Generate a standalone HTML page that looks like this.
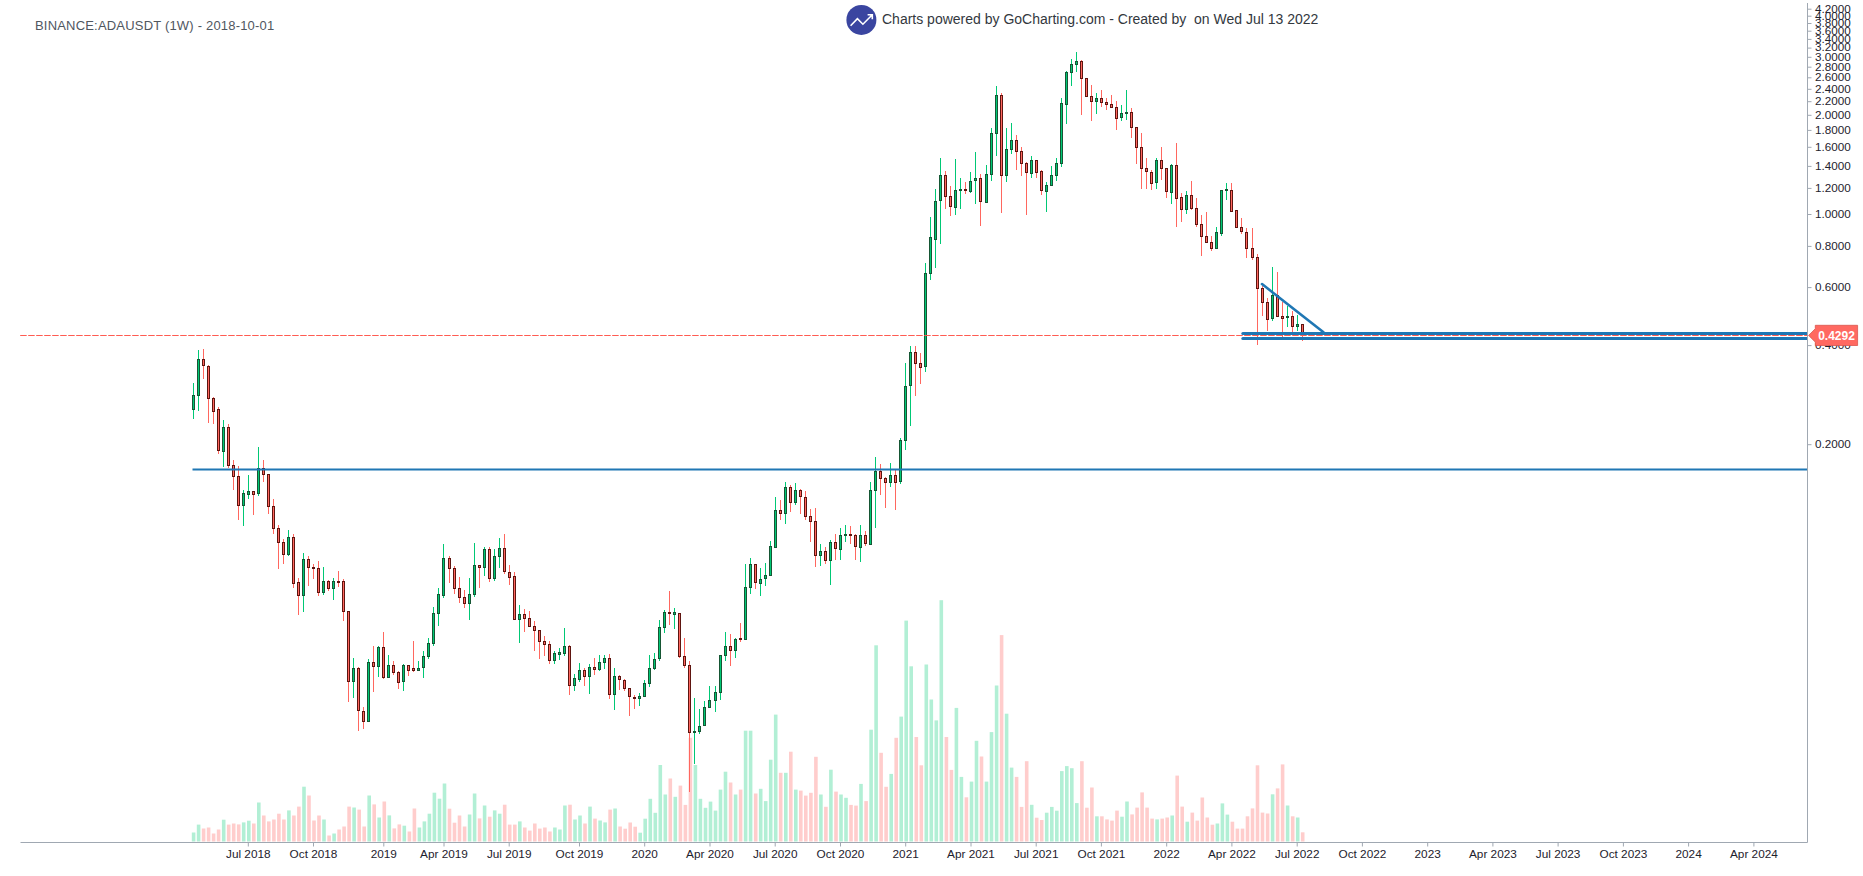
<!DOCTYPE html>
<html><head><meta charset="utf-8"><style>
html,body{margin:0;padding:0;background:#fff;width:1863px;height:876px;overflow:hidden}
svg{display:block;position:absolute;left:0;top:0}
.t{position:absolute;font-family:"Liberation Sans",sans-serif;white-space:pre}
</style></head><body>
<svg width="1863" height="876" viewBox="0 0 1863 876">
<defs><clipPath id="pc"><rect x="0" y="0" width="1807.5" height="842"/></clipPath></defs>
<g><rect x="191.8" y="832.5" width="3.6" height="9.0" fill="#b2efd5"/><rect x="196.8" y="824.6" width="3.6" height="16.9" fill="#b2efd5"/><rect x="201.8" y="828.5" width="3.6" height="13.0" fill="#ffcdcc"/><rect x="206.8" y="827.5" width="3.6" height="14.0" fill="#ffcdcc"/><rect x="211.8" y="833.5" width="3.6" height="8.0" fill="#ffcdcc"/><rect x="216.8" y="829.5" width="3.6" height="12.0" fill="#ffcdcc"/><rect x="221.9" y="819.7" width="3.6" height="21.8" fill="#b2efd5"/><rect x="226.9" y="824.6" width="3.6" height="16.9" fill="#ffcdcc"/><rect x="231.9" y="823.5" width="3.6" height="18.0" fill="#ffcdcc"/><rect x="236.9" y="824.4" width="3.6" height="17.1" fill="#ffcdcc"/><rect x="241.9" y="822.4" width="3.6" height="19.1" fill="#b2efd5"/><rect x="247.0" y="820.7" width="3.6" height="20.8" fill="#b2efd5"/><rect x="252.0" y="823.5" width="3.6" height="18.0" fill="#ffcdcc"/><rect x="257.0" y="802.5" width="3.6" height="39.0" fill="#b2efd5"/><rect x="262.0" y="815.5" width="3.6" height="26.0" fill="#ffcdcc"/><rect x="267.0" y="821.4" width="3.6" height="20.1" fill="#ffcdcc"/><rect x="272.1" y="819.5" width="3.6" height="22.0" fill="#ffcdcc"/><rect x="277.1" y="813.7" width="3.6" height="27.8" fill="#ffcdcc"/><rect x="282.1" y="819.5" width="3.6" height="22.0" fill="#ffcdcc"/><rect x="287.1" y="810.4" width="3.6" height="31.1" fill="#b2efd5"/><rect x="292.1" y="815.5" width="3.6" height="26.0" fill="#ffcdcc"/><rect x="297.1" y="806.6" width="3.6" height="34.9" fill="#ffcdcc"/><rect x="302.2" y="786.7" width="3.6" height="54.8" fill="#b2efd5"/><rect x="307.2" y="795.5" width="3.6" height="46.0" fill="#ffcdcc"/><rect x="312.2" y="820.5" width="3.6" height="21.0" fill="#ffcdcc"/><rect x="317.2" y="815.5" width="3.6" height="26.0" fill="#ffcdcc"/><rect x="322.2" y="819.5" width="3.6" height="22.0" fill="#b2efd5"/><rect x="327.3" y="835.5" width="3.6" height="6.0" fill="#ffcdcc"/><rect x="332.3" y="833.5" width="3.6" height="8.0" fill="#b2efd5"/><rect x="337.3" y="829.5" width="3.6" height="12.0" fill="#ffcdcc"/><rect x="342.3" y="826.5" width="3.6" height="15.0" fill="#ffcdcc"/><rect x="347.3" y="806.6" width="3.6" height="34.9" fill="#ffcdcc"/><rect x="352.3" y="807.5" width="3.6" height="34.0" fill="#b2efd5"/><rect x="357.4" y="809.6" width="3.6" height="31.9" fill="#ffcdcc"/><rect x="362.4" y="826.5" width="3.6" height="15.0" fill="#ffcdcc"/><rect x="367.4" y="795.5" width="3.6" height="46.0" fill="#b2efd5"/><rect x="372.4" y="804.4" width="3.6" height="37.1" fill="#ffcdcc"/><rect x="377.4" y="817.5" width="3.6" height="24.0" fill="#b2efd5"/><rect x="382.5" y="801.5" width="3.6" height="40.0" fill="#ffcdcc"/><rect x="387.5" y="815.4" width="3.6" height="26.1" fill="#b2efd5"/><rect x="392.5" y="828.4" width="3.6" height="13.1" fill="#ffcdcc"/><rect x="397.5" y="824.4" width="3.6" height="17.1" fill="#ffcdcc"/><rect x="402.5" y="825.7" width="3.6" height="15.8" fill="#b2efd5"/><rect x="407.6" y="831.5" width="3.6" height="10.0" fill="#ffcdcc"/><rect x="412.6" y="808.5" width="3.6" height="33.0" fill="#ffcdcc"/><rect x="417.6" y="827.5" width="3.6" height="14.0" fill="#b2efd5"/><rect x="422.6" y="821.4" width="3.6" height="20.1" fill="#b2efd5"/><rect x="427.6" y="813.7" width="3.6" height="27.8" fill="#b2efd5"/><rect x="432.6" y="792.7" width="3.6" height="48.8" fill="#b2efd5"/><rect x="437.7" y="798.7" width="3.6" height="42.8" fill="#b2efd5"/><rect x="442.7" y="783.5" width="3.6" height="58.0" fill="#b2efd5"/><rect x="447.7" y="808.7" width="3.6" height="32.8" fill="#ffcdcc"/><rect x="452.7" y="822.7" width="3.6" height="18.8" fill="#ffcdcc"/><rect x="457.7" y="815.5" width="3.6" height="26.0" fill="#ffcdcc"/><rect x="462.8" y="826.5" width="3.6" height="15.0" fill="#ffcdcc"/><rect x="467.8" y="814.5" width="3.6" height="27.0" fill="#b2efd5"/><rect x="472.8" y="793.5" width="3.6" height="48.0" fill="#b2efd5"/><rect x="477.8" y="818.4" width="3.6" height="23.1" fill="#ffcdcc"/><rect x="482.8" y="805.5" width="3.6" height="36.0" fill="#b2efd5"/><rect x="487.9" y="816.7" width="3.6" height="24.8" fill="#ffcdcc"/><rect x="492.9" y="810.4" width="3.6" height="31.1" fill="#b2efd5"/><rect x="497.9" y="813.7" width="3.6" height="27.8" fill="#b2efd5"/><rect x="502.9" y="804.7" width="3.6" height="36.8" fill="#ffcdcc"/><rect x="507.9" y="824.6" width="3.6" height="16.9" fill="#ffcdcc"/><rect x="513.0" y="824.6" width="3.6" height="16.9" fill="#ffcdcc"/><rect x="518.0" y="821.4" width="3.6" height="20.1" fill="#b2efd5"/><rect x="523.0" y="827.5" width="3.6" height="14.0" fill="#ffcdcc"/><rect x="528.0" y="830.6" width="3.6" height="10.9" fill="#ffcdcc"/><rect x="533.0" y="823.5" width="3.6" height="18.0" fill="#ffcdcc"/><rect x="538.0" y="828.6" width="3.6" height="12.9" fill="#ffcdcc"/><rect x="543.1" y="827.5" width="3.6" height="14.0" fill="#ffcdcc"/><rect x="548.1" y="831.5" width="3.6" height="10.0" fill="#ffcdcc"/><rect x="553.1" y="827.5" width="3.6" height="14.0" fill="#b2efd5"/><rect x="558.1" y="829.5" width="3.6" height="12.0" fill="#b2efd5"/><rect x="563.1" y="805.5" width="3.6" height="36.0" fill="#b2efd5"/><rect x="568.2" y="804.7" width="3.6" height="36.8" fill="#ffcdcc"/><rect x="573.2" y="819.5" width="3.6" height="22.0" fill="#b2efd5"/><rect x="578.2" y="815.5" width="3.6" height="26.0" fill="#b2efd5"/><rect x="583.2" y="823.5" width="3.6" height="18.0" fill="#ffcdcc"/><rect x="588.2" y="806.6" width="3.6" height="34.9" fill="#b2efd5"/><rect x="593.2" y="818.6" width="3.6" height="22.9" fill="#ffcdcc"/><rect x="598.3" y="820.5" width="3.6" height="21.0" fill="#b2efd5"/><rect x="603.3" y="822.4" width="3.6" height="19.1" fill="#b2efd5"/><rect x="608.3" y="809.6" width="3.6" height="31.9" fill="#ffcdcc"/><rect x="613.3" y="808.5" width="3.6" height="33.0" fill="#b2efd5"/><rect x="618.3" y="826.5" width="3.6" height="15.0" fill="#ffcdcc"/><rect x="623.4" y="828.7" width="3.6" height="12.8" fill="#ffcdcc"/><rect x="628.4" y="822.5" width="3.6" height="19.0" fill="#ffcdcc"/><rect x="633.4" y="826.7" width="3.6" height="14.8" fill="#ffcdcc"/><rect x="638.4" y="832.7" width="3.6" height="8.8" fill="#b2efd5"/><rect x="643.4" y="818.7" width="3.6" height="22.8" fill="#b2efd5"/><rect x="648.5" y="798.8" width="3.6" height="42.7" fill="#b2efd5"/><rect x="653.5" y="812.8" width="3.6" height="28.7" fill="#b2efd5"/><rect x="658.5" y="765.0" width="3.6" height="76.5" fill="#b2efd5"/><rect x="663.5" y="794.5" width="3.6" height="47.0" fill="#b2efd5"/><rect x="668.5" y="778.5" width="3.6" height="63.0" fill="#ffcdcc"/><rect x="673.5" y="796.8" width="3.6" height="44.7" fill="#b2efd5"/><rect x="678.6" y="785.6" width="3.6" height="55.9" fill="#ffcdcc"/><rect x="683.6" y="804.9" width="3.6" height="36.6" fill="#ffcdcc"/><rect x="688.6" y="737.8" width="3.6" height="103.7" fill="#ffcdcc"/><rect x="693.6" y="765.0" width="3.6" height="76.5" fill="#b2efd5"/><rect x="698.6" y="798.8" width="3.6" height="42.7" fill="#b2efd5"/><rect x="703.7" y="807.8" width="3.6" height="33.7" fill="#b2efd5"/><rect x="708.7" y="801.6" width="3.6" height="39.9" fill="#b2efd5"/><rect x="713.7" y="810.6" width="3.6" height="30.9" fill="#b2efd5"/><rect x="718.7" y="789.6" width="3.6" height="51.9" fill="#b2efd5"/><rect x="723.7" y="771.7" width="3.6" height="69.8" fill="#b2efd5"/><rect x="728.8" y="782.5" width="3.6" height="59.0" fill="#ffcdcc"/><rect x="733.8" y="794.5" width="3.6" height="47.0" fill="#b2efd5"/><rect x="738.8" y="789.6" width="3.6" height="51.9" fill="#ffcdcc"/><rect x="743.8" y="730.7" width="3.6" height="110.8" fill="#b2efd5"/><rect x="748.8" y="730.7" width="3.6" height="110.8" fill="#b2efd5"/><rect x="753.9" y="793.5" width="3.6" height="48.0" fill="#ffcdcc"/><rect x="758.9" y="788.8" width="3.6" height="52.7" fill="#b2efd5"/><rect x="763.9" y="801.1" width="3.6" height="40.4" fill="#b2efd5"/><rect x="768.9" y="759.7" width="3.6" height="81.8" fill="#b2efd5"/><rect x="773.9" y="714.6" width="3.6" height="126.9" fill="#b2efd5"/><rect x="778.9" y="772.8" width="3.6" height="68.7" fill="#ffcdcc"/><rect x="784.0" y="772.8" width="3.6" height="68.7" fill="#b2efd5"/><rect x="789.0" y="751.7" width="3.6" height="89.8" fill="#ffcdcc"/><rect x="794.0" y="789.6" width="3.6" height="51.9" fill="#b2efd5"/><rect x="799.0" y="790.6" width="3.6" height="50.9" fill="#ffcdcc"/><rect x="804.0" y="795.6" width="3.6" height="45.9" fill="#ffcdcc"/><rect x="809.1" y="792.8" width="3.6" height="48.7" fill="#ffcdcc"/><rect x="814.1" y="756.8" width="3.6" height="84.7" fill="#ffcdcc"/><rect x="819.1" y="794.5" width="3.6" height="47.0" fill="#b2efd5"/><rect x="824.1" y="806.8" width="3.6" height="34.7" fill="#ffcdcc"/><rect x="829.1" y="769.7" width="3.6" height="71.8" fill="#b2efd5"/><rect x="834.2" y="791.6" width="3.6" height="49.9" fill="#ffcdcc"/><rect x="839.2" y="794.5" width="3.6" height="47.0" fill="#b2efd5"/><rect x="844.2" y="797.8" width="3.6" height="43.7" fill="#b2efd5"/><rect x="849.2" y="804.9" width="3.6" height="36.6" fill="#ffcdcc"/><rect x="854.2" y="805.6" width="3.6" height="35.9" fill="#ffcdcc"/><rect x="859.2" y="783.9" width="3.6" height="57.6" fill="#b2efd5"/><rect x="864.3" y="801.1" width="3.6" height="40.4" fill="#ffcdcc"/><rect x="869.3" y="729.7" width="3.6" height="111.8" fill="#b2efd5"/><rect x="874.3" y="645.3" width="3.6" height="196.2" fill="#b2efd5"/><rect x="879.3" y="752.8" width="3.6" height="88.7" fill="#ffcdcc"/><rect x="884.3" y="786.8" width="3.6" height="54.7" fill="#ffcdcc"/><rect x="889.4" y="773.9" width="3.6" height="67.6" fill="#b2efd5"/><rect x="894.4" y="737.8" width="3.6" height="103.7" fill="#ffcdcc"/><rect x="899.4" y="716.6" width="3.6" height="124.9" fill="#b2efd5"/><rect x="904.4" y="620.6" width="3.6" height="220.9" fill="#b2efd5"/><rect x="909.4" y="666.3" width="3.6" height="175.2" fill="#b2efd5"/><rect x="914.5" y="737.0" width="3.6" height="104.5" fill="#ffcdcc"/><rect x="919.5" y="765.3" width="3.6" height="76.2" fill="#ffcdcc"/><rect x="924.5" y="664.5" width="3.6" height="177.0" fill="#b2efd5"/><rect x="929.5" y="699.5" width="3.6" height="142.0" fill="#b2efd5"/><rect x="934.5" y="720.4" width="3.6" height="121.1" fill="#b2efd5"/><rect x="939.5" y="600.2" width="3.6" height="241.3" fill="#b2efd5"/><rect x="944.6" y="737.0" width="3.6" height="104.5" fill="#ffcdcc"/><rect x="949.6" y="769.9" width="3.6" height="71.6" fill="#ffcdcc"/><rect x="954.6" y="707.9" width="3.6" height="133.6" fill="#b2efd5"/><rect x="959.6" y="776.9" width="3.6" height="64.6" fill="#b2efd5"/><rect x="964.6" y="797.3" width="3.6" height="44.2" fill="#ffcdcc"/><rect x="969.7" y="781.6" width="3.6" height="59.9" fill="#b2efd5"/><rect x="974.7" y="740.8" width="3.6" height="100.7" fill="#b2efd5"/><rect x="979.7" y="756.5" width="3.6" height="85.0" fill="#ffcdcc"/><rect x="984.7" y="781.6" width="3.6" height="59.9" fill="#b2efd5"/><rect x="989.7" y="732.1" width="3.6" height="109.4" fill="#b2efd5"/><rect x="994.8" y="685.5" width="3.6" height="156.0" fill="#b2efd5"/><rect x="999.8" y="635.1" width="3.6" height="206.4" fill="#ffcdcc"/><rect x="1004.8" y="713.7" width="3.6" height="127.8" fill="#b2efd5"/><rect x="1009.8" y="767.6" width="3.6" height="73.9" fill="#b2efd5"/><rect x="1014.8" y="776.9" width="3.6" height="64.6" fill="#ffcdcc"/><rect x="1019.8" y="806.9" width="3.6" height="34.6" fill="#ffcdcc"/><rect x="1024.9" y="761.2" width="3.6" height="80.3" fill="#ffcdcc"/><rect x="1029.9" y="804.8" width="3.6" height="36.7" fill="#b2efd5"/><rect x="1034.9" y="817.7" width="3.6" height="23.8" fill="#ffcdcc"/><rect x="1039.9" y="820.0" width="3.6" height="21.5" fill="#ffcdcc"/><rect x="1044.9" y="812.7" width="3.6" height="28.8" fill="#b2efd5"/><rect x="1050.0" y="806.9" width="3.6" height="34.6" fill="#b2efd5"/><rect x="1055.0" y="810.7" width="3.6" height="30.8" fill="#b2efd5"/><rect x="1060.0" y="771.1" width="3.6" height="70.4" fill="#b2efd5"/><rect x="1065.0" y="766.1" width="3.6" height="75.4" fill="#b2efd5"/><rect x="1070.0" y="768.2" width="3.6" height="73.3" fill="#b2efd5"/><rect x="1075.0" y="803.1" width="3.6" height="38.4" fill="#b2efd5"/><rect x="1080.1" y="761.2" width="3.6" height="80.3" fill="#ffcdcc"/><rect x="1085.1" y="807.7" width="3.6" height="33.8" fill="#ffcdcc"/><rect x="1090.1" y="787.5" width="3.6" height="54.0" fill="#ffcdcc"/><rect x="1095.1" y="816.3" width="3.6" height="25.2" fill="#b2efd5"/><rect x="1100.1" y="816.3" width="3.6" height="25.2" fill="#ffcdcc"/><rect x="1105.2" y="819.4" width="3.6" height="22.1" fill="#ffcdcc"/><rect x="1110.2" y="820.6" width="3.6" height="20.9" fill="#ffcdcc"/><rect x="1115.2" y="810.6" width="3.6" height="30.9" fill="#ffcdcc"/><rect x="1120.2" y="816.7" width="3.6" height="24.8" fill="#b2efd5"/><rect x="1125.2" y="801.5" width="3.6" height="40.0" fill="#b2efd5"/><rect x="1130.3" y="814.4" width="3.6" height="27.1" fill="#ffcdcc"/><rect x="1135.3" y="807.6" width="3.6" height="33.9" fill="#ffcdcc"/><rect x="1140.3" y="792.4" width="3.6" height="49.1" fill="#ffcdcc"/><rect x="1145.3" y="807.6" width="3.6" height="33.9" fill="#ffcdcc"/><rect x="1150.3" y="818.6" width="3.6" height="22.9" fill="#ffcdcc"/><rect x="1155.3" y="819.4" width="3.6" height="22.1" fill="#b2efd5"/><rect x="1160.4" y="818.6" width="3.6" height="22.9" fill="#ffcdcc"/><rect x="1165.4" y="817.5" width="3.6" height="24.0" fill="#ffcdcc"/><rect x="1170.4" y="815.5" width="3.6" height="26.0" fill="#b2efd5"/><rect x="1175.4" y="775.6" width="3.6" height="65.9" fill="#ffcdcc"/><rect x="1180.4" y="806.6" width="3.6" height="34.9" fill="#ffcdcc"/><rect x="1185.5" y="821.7" width="3.6" height="19.8" fill="#b2efd5"/><rect x="1190.5" y="812.6" width="3.6" height="28.9" fill="#ffcdcc"/><rect x="1195.5" y="820.6" width="3.6" height="20.9" fill="#ffcdcc"/><rect x="1200.5" y="797.5" width="3.6" height="44.0" fill="#ffcdcc"/><rect x="1205.5" y="817.5" width="3.6" height="24.0" fill="#ffcdcc"/><rect x="1210.6" y="824.7" width="3.6" height="16.8" fill="#ffcdcc"/><rect x="1215.6" y="823.5" width="3.6" height="18.0" fill="#b2efd5"/><rect x="1220.6" y="803.4" width="3.6" height="38.1" fill="#b2efd5"/><rect x="1225.6" y="814.6" width="3.6" height="26.9" fill="#b2efd5"/><rect x="1230.6" y="821.7" width="3.6" height="19.8" fill="#ffcdcc"/><rect x="1235.6" y="828.6" width="3.6" height="12.9" fill="#ffcdcc"/><rect x="1240.7" y="828.6" width="3.6" height="12.9" fill="#ffcdcc"/><rect x="1245.7" y="816.3" width="3.6" height="25.2" fill="#ffcdcc"/><rect x="1250.7" y="808.4" width="3.6" height="33.1" fill="#ffcdcc"/><rect x="1255.7" y="765.3" width="3.6" height="76.2" fill="#ffcdcc"/><rect x="1260.7" y="812.6" width="3.6" height="28.9" fill="#ffcdcc"/><rect x="1265.8" y="813.5" width="3.6" height="28.0" fill="#ffcdcc"/><rect x="1270.8" y="794.3" width="3.6" height="47.2" fill="#b2efd5"/><rect x="1275.8" y="788.4" width="3.6" height="53.1" fill="#ffcdcc"/><rect x="1280.8" y="764.4" width="3.6" height="77.1" fill="#ffcdcc"/><rect x="1285.8" y="805.5" width="3.6" height="36.0" fill="#b2efd5"/><rect x="1290.9" y="816.3" width="3.6" height="25.2" fill="#ffcdcc"/><rect x="1295.9" y="817.5" width="3.6" height="24.0" fill="#b2efd5"/><rect x="1300.9" y="832.3" width="3.6" height="9.2" fill="#ffcdcc"/></g>
<path d="M193.5 383V419M198.5 350V411M223.5 420V467M243.5 490V526M248.5 475V499M258.5 447V496M288.5 530V556M303.5 553V612M323.5 567V595M333.5 578V600M353.5 658V698M368.5 659V722M378.5 646V677M388.5 655V678M403.5 664V691M418.5 661V671M423.5 651V678M428.5 638V659M433.5 607V646M438.5 588V626M443.5 544V598M469.5 578V620M474.5 543V597M484.5 547V576M494.5 549V581M499.5 538V568M519.5 605V643M554.5 651V664M559.5 648V660M564.5 628V656M574.5 674V691M579.5 663V682M589.5 664V694M599.5 655V671M604.5 655V669M614.5 668V710M639.5 693V706M644.5 680V697M649.5 655V687M654.5 653V670M659.5 620V661M664.5 610V633M674.5 608V629M694.5 698V764M699.5 709V734M704.5 701V726M709.5 686V708M715.5 686V712M720.5 655V700M725.5 632V661M735.5 638V658M745.5 564V640M750.5 558V594M760.5 568V596M765.5 563V586M770.5 541V576M775.5 497V548M785.5 482V524M795.5 483V505M820.5 544V566M830.5 540V585M840.5 528V560M845.5 525V542M860.5 525V562M870.5 482V544M875.5 457V528M890.5 463V487M900.5 438V484M905.5 363V450M910.5 346V426M925.5 263V372M930.5 217V280M935.5 189V268M940.5 158V244M955.5 159V215M960.5 178V209M970.5 172V193M975.5 152V204M986.5 165V203M991.5 128V181M996.5 86V156M1006.5 128V182M1011.5 123V154M1031.5 156V178M1046.5 182V212M1051.5 166V186M1056.5 158V181M1061.5 98V167M1066.5 71V124M1071.5 59V86M1076.5 52V72M1096.5 93V114M1121.5 105V121M1126.5 90V120M1156.5 158V189M1171.5 164V204M1186.5 191V214M1216.5 227V249M1221.5 190V236M1226.5 183V200M1272.5 267V321M1287.5 306V327M1297.5 315V331" stroke="#00c875" stroke-width="1" fill="none"/>
<path d="M203.5 349V379M208.5 365V423M213.5 397V424M218.5 407V454M228.5 424V468M233.5 460V490M238.5 466V520M253.5 491V515M263.5 460V482M268.5 474V514M273.5 499V534M278.5 525V569M283.5 539V564M293.5 534V588M298.5 578V615M308.5 556V586M313.5 564V579M318.5 561V596M328.5 580V591M338.5 571V587M343.5 579V621M348.5 611V702M358.5 667V731M363.5 707V729M373.5 646V692M383.5 632V679M393.5 661V675M398.5 671V689M408.5 665V676M413.5 641V672M449.5 556V583M454.5 566V594M459.5 577V603M464.5 590V608M479.5 565V588M489.5 547V582M504.5 534V574M509.5 565V585M514.5 572V620M524.5 609V632M529.5 611V627M534.5 621V651M539.5 630V659M544.5 636V656M549.5 641V664M569.5 645V695M584.5 668V686M594.5 658V675M609.5 654V699M619.5 675V690M624.5 679V691M629.5 688V716M634.5 695V709M669.5 591V625M679.5 613V658M684.5 638V668M689.5 661V792M730.5 634V666M740.5 623V642M755.5 564V589M780.5 500V520M790.5 485V512M800.5 489V514M805.5 491V520M810.5 509V542M815.5 508V567M825.5 547V564M835.5 534V560M850.5 526V544M855.5 534V560M865.5 531V546M880.5 464V495M885.5 477V508M895.5 470V510M915.5 346V396M920.5 353V384M945.5 171V209M950.5 186V216M965.5 182V194M980.5 174V226M1001.5 93V213M1016.5 135V170M1021.5 147V176M1026.5 162V215M1036.5 160V178M1041.5 170V195M1081.5 60V115M1086.5 78V97M1091.5 85V121M1101.5 90V107M1106.5 98V110M1111.5 95V108M1116.5 101V130M1131.5 108V138M1136.5 127V164M1141.5 133V189M1146.5 158V189M1151.5 170V190M1161.5 147V180M1166.5 168V198M1176.5 143V227M1181.5 193V222M1191.5 181V210M1196.5 198V227M1201.5 215V256M1206.5 212V243M1211.5 236V251M1231.5 183V212M1236.5 210V228M1241.5 218V234M1246.5 228V258M1252.5 228V260M1257.5 254V345M1262.5 286V316M1267.5 298V331M1277.5 272V317M1282.5 302V337M1292.5 311V334M1302.5 324V341" stroke="#ff675f" stroke-width="1" fill="none"/>
<g fill="#00c875" stroke="#165634" stroke-width="1"><rect x="192.5" y="395.5" width="2" height="14.0"/><rect x="197.5" y="359.5" width="2" height="36.0"/><rect x="222.5" y="427.5" width="2" height="24.0"/><rect x="242.5" y="493.5" width="2" height="12.0"/><rect x="247.5" y="491.5" width="2" height="3.0"/><rect x="257.5" y="468.5" width="2" height="25.0"/><rect x="287.5" y="537.5" width="2" height="17.0"/><rect x="302.5" y="559.5" width="2" height="36.0"/><rect x="322.5" y="581.5" width="2" height="11.0"/><rect x="332.5" y="581.5" width="2" height="7.0"/><rect x="352.5" y="668.5" width="2" height="13.0"/><rect x="367.5" y="662.5" width="2" height="59.0"/><rect x="377.5" y="647.5" width="2" height="19.0"/><rect x="387.5" y="665.5" width="2" height="12.0"/><rect x="402.5" y="665.5" width="2" height="16.0"/><rect x="417.5" y="668.5" width="2" height="2.0"/><rect x="422.5" y="656.5" width="2" height="11.0"/><rect x="427.5" y="643.5" width="2" height="13.0"/><rect x="432.5" y="613.5" width="2" height="30.0"/><rect x="437.5" y="594.5" width="2" height="19.0"/><rect x="442.5" y="558.5" width="2" height="37.0"/><rect x="468.5" y="594.5" width="2" height="9.0"/><rect x="473.5" y="565.5" width="2" height="29.0"/><rect x="483.5" y="549.5" width="2" height="18.0"/><rect x="493.5" y="556.5" width="2" height="22.0"/><rect x="498.5" y="548.5" width="2" height="8.0"/><rect x="518.5" y="614.5" width="2" height="5.0"/><rect x="553.5" y="653.5" width="2" height="7.0"/><rect x="558.5" y="652.5" width="2" height="2.0"/><rect x="563.5" y="646.5" width="2" height="7.0"/><rect x="573.5" y="678.5" width="2" height="7.0"/><rect x="578.5" y="670.5" width="2" height="9.0"/><rect x="588.5" y="667.5" width="2" height="9.0"/><rect x="598.5" y="662.5" width="2" height="7.0"/><rect x="603.5" y="658.5" width="2" height="4.0"/><rect x="613.5" y="676.5" width="2" height="18.0"/><rect x="638.5" y="696.5" width="2" height="2.0"/><rect x="643.5" y="683.5" width="2" height="13.0"/><rect x="648.5" y="668.5" width="2" height="15.0"/><rect x="653.5" y="659.5" width="2" height="9.0"/><rect x="658.5" y="627.5" width="2" height="31.0"/><rect x="663.5" y="612.5" width="2" height="15.0"/><rect x="673.5" y="612.5" width="2" height="2.0"/><rect x="693.5" y="731.5" width="2" height="1.0"/><rect x="698.5" y="726.5" width="2" height="5.0"/><rect x="703.5" y="707.5" width="2" height="18.0"/><rect x="708.5" y="700.5" width="2" height="7.0"/><rect x="714.5" y="692.5" width="2" height="8.0"/><rect x="719.5" y="655.5" width="2" height="37.0"/><rect x="724.5" y="646.5" width="2" height="9.0"/><rect x="734.5" y="639.5" width="2" height="11.0"/><rect x="744.5" y="587.5" width="2" height="52.0"/><rect x="749.5" y="564.5" width="2" height="23.0"/><rect x="759.5" y="579.5" width="2" height="4.0"/><rect x="764.5" y="575.5" width="2" height="3.0"/><rect x="769.5" y="546.5" width="2" height="29.0"/><rect x="774.5" y="510.5" width="2" height="37.0"/><rect x="784.5" y="487.5" width="2" height="26.0"/><rect x="794.5" y="490.5" width="2" height="12.0"/><rect x="819.5" y="551.5" width="2" height="4.0"/><rect x="829.5" y="542.5" width="2" height="18.0"/><rect x="839.5" y="535.5" width="2" height="14.0"/><rect x="844.5" y="534.5" width="2" height="1.0"/><rect x="859.5" y="535.5" width="2" height="12.0"/><rect x="869.5" y="490.5" width="2" height="54.0"/><rect x="874.5" y="471.5" width="2" height="19.0"/><rect x="889.5" y="475.5" width="2" height="7.0"/><rect x="899.5" y="440.5" width="2" height="41.0"/><rect x="904.5" y="386.5" width="2" height="54.0"/><rect x="909.5" y="352.5" width="2" height="33.0"/><rect x="924.5" y="273.5" width="2" height="93.0"/><rect x="929.5" y="237.5" width="2" height="36.0"/><rect x="934.5" y="201.5" width="2" height="38.0"/><rect x="939.5" y="175.5" width="2" height="25.0"/><rect x="954.5" y="190.5" width="2" height="17.0"/><rect x="959.5" y="189.5" width="2" height="1.0"/><rect x="969.5" y="181.5" width="2" height="10.0"/><rect x="974.5" y="178.5" width="2" height="2.0"/><rect x="985.5" y="174.5" width="2" height="28.0"/><rect x="990.5" y="133.5" width="2" height="41.0"/><rect x="995.5" y="95.5" width="2" height="38.0"/><rect x="1005.5" y="149.5" width="2" height="26.0"/><rect x="1010.5" y="140.5" width="2" height="9.0"/><rect x="1030.5" y="160.5" width="2" height="13.0"/><rect x="1045.5" y="185.5" width="2" height="6.0"/><rect x="1050.5" y="175.5" width="2" height="10.0"/><rect x="1055.5" y="163.5" width="2" height="12.0"/><rect x="1060.5" y="103.5" width="2" height="60.0"/><rect x="1065.5" y="72.5" width="2" height="32.0"/><rect x="1070.5" y="64.5" width="2" height="8.0"/><rect x="1075.5" y="61.5" width="2" height="3.0"/><rect x="1095.5" y="98.5" width="2" height="3.0"/><rect x="1120.5" y="113.5" width="2" height="4.0"/><rect x="1125.5" y="112.5" width="2" height="1.0"/><rect x="1155.5" y="160.5" width="2" height="22.0"/><rect x="1170.5" y="165.5" width="2" height="27.0"/><rect x="1185.5" y="195.5" width="2" height="14.0"/><rect x="1215.5" y="232.5" width="2" height="16.0"/><rect x="1220.5" y="190.5" width="2" height="43.0"/><rect x="1225.5" y="189.5" width="2" height="1.0"/><rect x="1271.5" y="295.5" width="2" height="23.0"/><rect x="1286.5" y="316.5" width="2" height="1.0"/><rect x="1296.5" y="324.5" width="2" height="2.0"/></g>
<g fill="#ff675f" stroke="#5e1510" stroke-width="1"><rect x="202.5" y="359.5" width="2" height="6.0"/><rect x="207.5" y="366.5" width="2" height="32.0"/><rect x="212.5" y="398.5" width="2" height="13.0"/><rect x="217.5" y="409.5" width="2" height="41.0"/><rect x="227.5" y="427.5" width="2" height="38.0"/><rect x="232.5" y="465.5" width="2" height="11.0"/><rect x="237.5" y="476.5" width="2" height="29.0"/><rect x="252.5" y="491.5" width="2" height="3.0"/><rect x="262.5" y="468.5" width="2" height="6.0"/><rect x="267.5" y="474.5" width="2" height="32.0"/><rect x="272.5" y="506.5" width="2" height="22.0"/><rect x="277.5" y="528.5" width="2" height="14.0"/><rect x="282.5" y="542.5" width="2" height="12.0"/><rect x="292.5" y="537.5" width="2" height="46.0"/><rect x="297.5" y="582.5" width="2" height="13.0"/><rect x="307.5" y="559.5" width="2" height="8.0"/><rect x="312.5" y="567.5" width="2" height="1.0"/><rect x="317.5" y="568.5" width="2" height="24.0"/><rect x="327.5" y="581.5" width="2" height="7.0"/><rect x="337.5" y="581.5" width="2" height="1.0"/><rect x="342.5" y="581.5" width="2" height="30.0"/><rect x="347.5" y="611.5" width="2" height="70.0"/><rect x="357.5" y="668.5" width="2" height="42.0"/><rect x="362.5" y="711.5" width="2" height="10.0"/><rect x="372.5" y="662.5" width="2" height="4.0"/><rect x="382.5" y="647.5" width="2" height="30.0"/><rect x="392.5" y="665.5" width="2" height="7.0"/><rect x="397.5" y="672.5" width="2" height="10.0"/><rect x="407.5" y="665.5" width="2" height="5.0"/><rect x="412.5" y="668.5" width="2" height="2.0"/><rect x="448.5" y="558.5" width="2" height="10.0"/><rect x="453.5" y="568.5" width="2" height="20.0"/><rect x="458.5" y="588.5" width="2" height="9.0"/><rect x="463.5" y="597.5" width="2" height="6.0"/><rect x="478.5" y="565.5" width="2" height="2.0"/><rect x="488.5" y="549.5" width="2" height="29.0"/><rect x="503.5" y="548.5" width="2" height="23.0"/><rect x="508.5" y="572.5" width="2" height="5.0"/><rect x="513.5" y="576.5" width="2" height="43.0"/><rect x="523.5" y="614.5" width="2" height="4.0"/><rect x="528.5" y="618.5" width="2" height="8.0"/><rect x="533.5" y="626.5" width="2" height="4.0"/><rect x="538.5" y="630.5" width="2" height="11.0"/><rect x="543.5" y="641.5" width="2" height="3.0"/><rect x="548.5" y="644.5" width="2" height="16.0"/><rect x="568.5" y="646.5" width="2" height="39.0"/><rect x="583.5" y="670.5" width="2" height="6.0"/><rect x="593.5" y="667.5" width="2" height="2.0"/><rect x="608.5" y="658.5" width="2" height="36.0"/><rect x="618.5" y="676.5" width="2" height="3.0"/><rect x="623.5" y="680.5" width="2" height="8.0"/><rect x="628.5" y="688.5" width="2" height="8.0"/><rect x="633.5" y="697.5" width="2" height="1.0"/><rect x="668.5" y="612.5" width="2" height="1.0"/><rect x="678.5" y="613.5" width="2" height="43.0"/><rect x="683.5" y="656.5" width="2" height="9.0"/><rect x="688.5" y="665.5" width="2" height="67.0"/><rect x="729.5" y="646.5" width="2" height="4.0"/><rect x="739.5" y="638.5" width="2" height="1.0"/><rect x="754.5" y="564.5" width="2" height="18.0"/><rect x="779.5" y="510.5" width="2" height="3.0"/><rect x="789.5" y="487.5" width="2" height="15.0"/><rect x="799.5" y="490.5" width="2" height="6.0"/><rect x="804.5" y="497.5" width="2" height="19.0"/><rect x="809.5" y="516.5" width="2" height="5.0"/><rect x="814.5" y="521.5" width="2" height="34.0"/><rect x="824.5" y="551.5" width="2" height="9.0"/><rect x="834.5" y="542.5" width="2" height="6.0"/><rect x="849.5" y="534.5" width="2" height="1.0"/><rect x="854.5" y="535.5" width="2" height="11.0"/><rect x="864.5" y="535.5" width="2" height="8.0"/><rect x="879.5" y="471.5" width="2" height="7.0"/><rect x="884.5" y="478.5" width="2" height="4.0"/><rect x="894.5" y="475.5" width="2" height="7.0"/><rect x="914.5" y="352.5" width="2" height="11.0"/><rect x="919.5" y="363.5" width="2" height="4.0"/><rect x="944.5" y="175.5" width="2" height="21.0"/><rect x="949.5" y="196.5" width="2" height="10.0"/><rect x="964.5" y="189.5" width="2" height="1.0"/><rect x="979.5" y="178.5" width="2" height="23.0"/><rect x="1000.5" y="95.5" width="2" height="80.0"/><rect x="1015.5" y="140.5" width="2" height="11.0"/><rect x="1020.5" y="151.5" width="2" height="12.0"/><rect x="1025.5" y="163.5" width="2" height="9.0"/><rect x="1035.5" y="160.5" width="2" height="12.0"/><rect x="1040.5" y="171.5" width="2" height="19.0"/><rect x="1080.5" y="61.5" width="2" height="17.0"/><rect x="1085.5" y="78.5" width="2" height="18.0"/><rect x="1090.5" y="96.5" width="2" height="5.0"/><rect x="1100.5" y="98.5" width="2" height="4.0"/><rect x="1105.5" y="102.5" width="2" height="2.0"/><rect x="1110.5" y="104.5" width="2" height="3.0"/><rect x="1115.5" y="107.5" width="2" height="11.0"/><rect x="1130.5" y="112.5" width="2" height="15.0"/><rect x="1135.5" y="127.5" width="2" height="20.0"/><rect x="1140.5" y="147.5" width="2" height="21.0"/><rect x="1145.5" y="168.5" width="2" height="3.0"/><rect x="1150.5" y="172.5" width="2" height="11.0"/><rect x="1160.5" y="160.5" width="2" height="8.0"/><rect x="1165.5" y="168.5" width="2" height="23.0"/><rect x="1175.5" y="165.5" width="2" height="33.0"/><rect x="1180.5" y="197.5" width="2" height="12.0"/><rect x="1190.5" y="195.5" width="2" height="13.0"/><rect x="1195.5" y="208.5" width="2" height="16.0"/><rect x="1200.5" y="224.5" width="2" height="12.0"/><rect x="1205.5" y="236.5" width="2" height="6.0"/><rect x="1210.5" y="242.5" width="2" height="6.0"/><rect x="1230.5" y="190.5" width="2" height="21.0"/><rect x="1235.5" y="210.5" width="2" height="17.0"/><rect x="1240.5" y="227.5" width="2" height="4.0"/><rect x="1245.5" y="232.5" width="2" height="16.0"/><rect x="1251.5" y="248.5" width="2" height="9.0"/><rect x="1256.5" y="257.5" width="2" height="31.0"/><rect x="1261.5" y="288.5" width="2" height="14.0"/><rect x="1266.5" y="302.5" width="2" height="17.0"/><rect x="1276.5" y="295.5" width="2" height="21.0"/><rect x="1281.5" y="316.5" width="2" height="2.0"/><rect x="1291.5" y="316.5" width="2" height="10.0"/><rect x="1301.5" y="324.5" width="2" height="8.0"/></g>
<line x1="20.2" y1="335.5" x2="1807" y2="335.5" stroke="#ff5c52" stroke-width="1" stroke-dasharray="6.5,1.5"/>
<line x1="192.5" y1="469.4" x2="1807" y2="469.4" stroke="#1f77b4" stroke-width="2"/>
<g clip-path="url(#pc)"><line x1="1242.8" y1="333.5" x2="1810" y2="333.5" stroke="#1f77b4" stroke-width="3" stroke-linecap="round"/><line x1="1242.8" y1="338.5" x2="1810" y2="338.5" stroke="#1f77b4" stroke-width="3" stroke-linecap="round"/></g>
<line x1="1262" y1="284.1" x2="1323.5" y2="332.3" stroke="#1f77b4" stroke-width="2.6" stroke-linecap="round"/>
<path d="M20.5 842.5H1807.5V3" stroke="#a0a8b2" stroke-width="1" fill="none"/>
<path d="M1807.5 9.2H1811.5M1807.5 16.2H1811.5M1807.5 23.5H1811.5M1807.5 31.2H1811.5M1807.5 39.4H1811.5M1807.5 48.1H1811.5M1807.5 57.3H1811.5M1807.5 67.2H1811.5M1807.5 77.8H1811.5M1807.5 89.3H1811.5M1807.5 101.7H1811.5M1807.5 115.3H1811.5M1807.5 130.4H1811.5M1807.5 147.3H1811.5M1807.5 166.4H1811.5M1807.5 188.4H1811.5M1807.5 214.5H1811.5M1807.5 246.4H1811.5M1807.5 287.6H1811.5M1807.5 345.6H1811.5M1807.5 444.7H1811.5" stroke="#a0a8b2" stroke-width="1"/>
<g font-family="Liberation Sans, sans-serif" font-size="11.7" fill="#1e222d"><text x="1815" y="12.5">4.2000</text><text x="1815" y="19.5">4.0000</text><text x="1815" y="26.8">3.8000</text><text x="1815" y="34.5">3.6000</text><text x="1815" y="42.7">3.4000</text><text x="1815" y="51.4">3.2000</text><text x="1815" y="60.6">3.0000</text><text x="1815" y="70.5">2.8000</text><text x="1815" y="81.1">2.6000</text><text x="1815" y="92.6">2.4000</text><text x="1815" y="105.0">2.2000</text><text x="1815" y="118.6">2.0000</text><text x="1815" y="133.7">1.8000</text><text x="1815" y="150.6">1.6000</text><text x="1815" y="169.7">1.4000</text><text x="1815" y="191.7">1.2000</text><text x="1815" y="217.8">1.0000</text><text x="1815" y="249.7">0.8000</text><text x="1815" y="290.9">0.6000</text><text x="1815" y="348.9">0.4000</text><text x="1815" y="448.0">0.2000</text></g>
<path d="M248.3 842.5V846.5M313.5 842.5V846.5M383.8 842.5V846.5M444.0 842.5V846.5M509.2 842.5V846.5M579.5 842.5V846.5M644.7 842.5V846.5M710.0 842.5V846.5M775.2 842.5V846.5M840.5 842.5V846.5M905.7 842.5V846.5M971.0 842.5V846.5M1036.2 842.5V846.5M1101.4 842.5V846.5M1166.7 842.5V846.5M1231.9 842.5V846.5M1297.2 842.5V846.5M1362.4 842.5V846.5M1427.7 842.5V846.5M1492.9 842.5V846.5M1558.1 842.5V846.5M1623.4 842.5V846.5M1688.6 842.5V846.5M1753.9 842.5V846.5" stroke="#a0a8b2" stroke-width="1"/>
<g font-family="Liberation Sans, sans-serif" font-size="11.8" fill="#1e222d" text-anchor="middle"><text x="248.3" y="857.6">Jul 2018</text><text x="313.5" y="857.6">Oct 2018</text><text x="383.8" y="857.6">2019</text><text x="444.0" y="857.6">Apr 2019</text><text x="509.2" y="857.6">Jul 2019</text><text x="579.5" y="857.6">Oct 2019</text><text x="644.7" y="857.6">2020</text><text x="710.0" y="857.6">Apr 2020</text><text x="775.2" y="857.6">Jul 2020</text><text x="840.5" y="857.6">Oct 2020</text><text x="905.7" y="857.6">2021</text><text x="971.0" y="857.6">Apr 2021</text><text x="1036.2" y="857.6">Jul 2021</text><text x="1101.4" y="857.6">Oct 2021</text><text x="1166.7" y="857.6">2022</text><text x="1231.9" y="857.6">Apr 2022</text><text x="1297.2" y="857.6">Jul 2022</text><text x="1362.4" y="857.6">Oct 2022</text><text x="1427.7" y="857.6">2023</text><text x="1492.9" y="857.6">Apr 2023</text><text x="1558.1" y="857.6">Jul 2023</text><text x="1623.4" y="857.6">Oct 2023</text><text x="1688.6" y="857.6">2024</text><text x="1753.9" y="857.6">Apr 2024</text></g>
<path d="M1808.6 335.4L1815.3 328.7V325.3H1857.6V345.5H1815.3V342.1Z" fill="#ff6961" stroke="#d9564e" stroke-width="0.8"/>
<text x="1836.5" y="339.8" font-family="Liberation Sans, sans-serif" font-size="12" font-weight="bold" fill="#fff" text-anchor="middle">0.4292</text>
<circle cx="861.4" cy="19.9" r="15" fill="#3a45a0"/>
<path d="M850.6 25.8L857.4 18.7L862.9 24.2L872.3 14.7M867.6 14.7H872.3V19.2" stroke="#fff" stroke-width="1.6" fill="none" stroke-linejoin="miter"/>
</svg>
<div class="t" id="sym" style="left:35px;top:17.5px;font-size:13px;letter-spacing:0.19px;color:#50575f">BINANCE:ADAUSDT (1W) - 2018-10-01</div>
<div class="t" id="hdr" style="left:882px;top:10.5px;font-size:14px;color:#33383e">Charts powered by GoCharting.com - Created by  on Wed Jul 13 2022</div>
</body></html>
